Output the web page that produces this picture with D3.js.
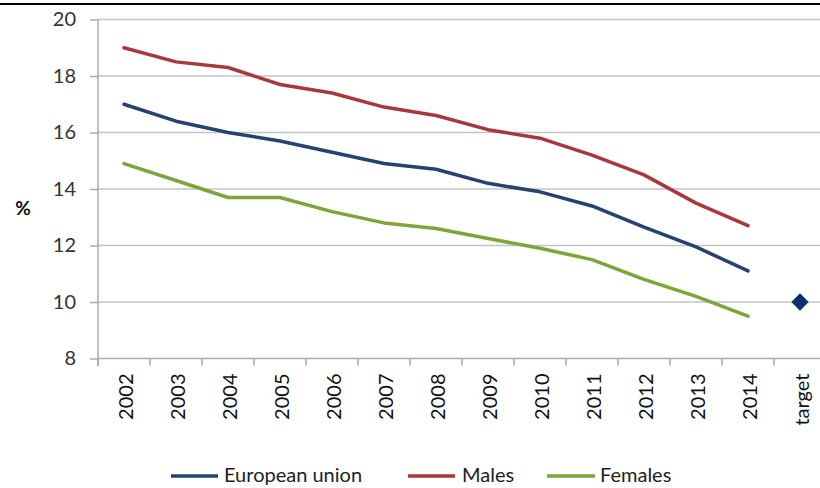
<!DOCTYPE html>
<html>
<head>
<meta charset="utf-8">
<script src="https://cdn.jsdelivr.net/npm/d3@7"></script>
<style>
  html, body { margin: 0; padding: 0; background: #fff; }
  svg { display: block; font-family: Lato, "Open Sans", sans-serif; }
</style>
</head>
<body>
<svg id="chart" width="820" height="488"></svg>
<script>
const categories = ["2002","2003","2004","2005","2006","2007","2008","2009","2010","2011","2012","2013","2014","target"];
const years = ["2002","2003","2004","2005","2006","2007","2008","2009","2010","2011","2012","2013","2014"];
const euValues      = [17.0, 16.4, 16.0, 15.7, 15.3, 14.9, 14.7, 14.2, 13.9, 13.4, 12.65, 11.95, 11.1];
const malesValues   = [19.0, 18.5, 18.3, 17.7, 17.4, 16.9, 16.6, 16.1, 15.8, 15.2, 14.5, 13.5, 12.7];
const femalesValues = [14.9, 14.3, 13.7, 13.7, 13.2, 12.8, 12.6, 12.25, 11.9, 11.5, 10.8, 10.2, 9.5];
const targetValue = 10.0;
const yTicks = [8, 10, 12, 14, 16, 18, 20];
const seriesNames = ["European union", "Males", "Females"];

const colors = { "European union": "#24436f", "Males": "#a8383a", "Females": "#7ea43a" };
const svg = d3.select("#chart");

const x = d3.scaleBand().domain(categories).range([98, 826]).padding(0);
const y = d3.scaleLinear().domain([8, 20]).range([358.5, 19.5]);
const cx = c => x(c) + x.bandwidth() / 2;

// top border line
svg.append("line").attr("x1", 0).attr("x2", 820).attr("y1", 4).attr("y2", 4)
  .attr("stroke", "#000").attr("stroke-width", 2);

// gridlines
svg.append("g").selectAll("line").data(yTicks.filter(t => t !== 8)).join("line")
  .attr("x1", 98).attr("x2", 826)
  .attr("y1", d => y(d)).attr("y2", d => y(d))
  .attr("stroke", "#c4c4c4").attr("stroke-width", 1.5);

// y axis
const yAxis = d3.axisLeft(y).tickValues(yTicks).tickSize(8).tickPadding(14).tickFormat(d3.format("d"));
const gy = svg.append("g").attr("transform", "translate(98,0)").call(yAxis);
gy.select(".domain").attr("stroke", "#aaaaaa").attr("stroke-width", 1.5).attr("d", `M0,${y(20)}V${y(8) + 8}`);
gy.selectAll(".tick line").attr("stroke", "#aaaaaa").attr("stroke-width", 1.5);
gy.selectAll(".tick text").attr("font-size", 20).attr("fill", "#333").attr("font-family", "Lato, sans-serif");

// x axis
const xAxis = d3.axisBottom(x).tickSize(0).tickPadding(0);
const gx = svg.append("g").attr("transform", `translate(0,${y(8)})`).call(xAxis);
gx.select(".domain").attr("stroke", "#aaaaaa").attr("stroke-width", 1.5).attr("d", `M98,0H826`);
gx.selectAll(".tick text")
  .attr("font-size", 20).attr("fill", "#111").attr("font-family", "Lato, sans-serif")
  .attr("text-anchor", "end")
  .attr("transform", "translate(2,15) rotate(-90)")
  .attr("x", 0).attr("y", 0).attr("dy", "0.36em");
// tick marks at band boundaries
svg.append("g").selectAll("line").data(categories.concat(["__end"])).join("line")
  .attr("x1", d => d === "__end" ? 826 : x(d)).attr("x2", d => d === "__end" ? 826 : x(d))
  .attr("y1", y(8)).attr("y2", y(8) + 7)
  .attr("stroke", "#aaaaaa").attr("stroke-width", 1.5);

// % label
svg.append("text").attr("x", 23).attr("y", 215).attr("text-anchor", "middle")
  .attr("font-size", 19).attr("font-weight", "bold").attr("fill", "#111").text("%");

// lines
const seriesData = [
  { name: "European union", values: euValues },
  { name: "Males", values: malesValues },
  { name: "Females", values: femalesValues }
];
const line = d3.line().x((d, i) => cx(years[i])).y(d => y(d));
svg.append("g").selectAll("path").data(seriesData).join("path")
  .attr("d", d => line(d.values))
  .attr("fill", "none")
  .attr("stroke", d => colors[d.name])
  .attr("stroke-width", 3.5)
  .attr("stroke-linejoin", "round")
  .attr("stroke-linecap", "round");

// target diamond
svg.append("path")
  .attr("d", d3.symbol(d3.symbolSquare, 150)())
  .attr("transform", `translate(${cx("target")},${y(targetValue)}) rotate(45)`)
  .attr("fill", "#0d2d6c");

// legend
const legendPos = [
  { name: "European union", x1: 171, x2: 218, tx: 224 },
  { name: "Males", x1: 408, x2: 455, tx: 462 },
  { name: "Females", x1: 547, x2: 595, tx: 600 }
];
const lg = svg.append("g").selectAll("g").data(legendPos).join("g");
lg.append("line").attr("x1", d => d.x1).attr("x2", d => d.x2).attr("y1", 476).attr("y2", 476)
  .attr("stroke", d => colors[d.name]).attr("stroke-width", 3.5);
lg.append("text").attr("x", d => d.tx).attr("y", 482).attr("font-size", 20).attr("fill", "#222")
  .text(d => d.name);
</script>
</body>
</html>
